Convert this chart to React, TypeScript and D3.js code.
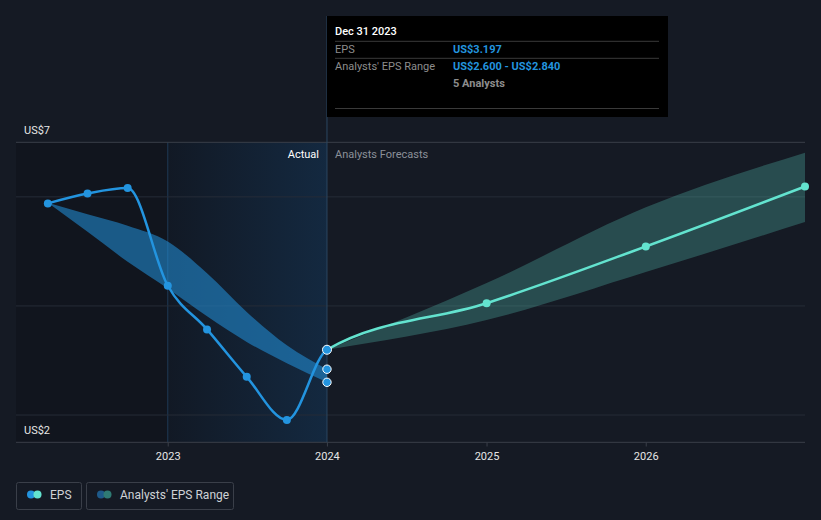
import React from "react";
import * as d3 from "d3";

const actualDates = ["2022-03-31", "2022-06-30", "2022-09-30", "2022-12-31", "2023-03-31", "2023-06-30", "2023-09-30", "2023-12-31"];
const actualEps = [5.88, 6.06, 6.16, 4.37, 3.57, 2.7, 1.91, 3.197];
const pastRangeHigh = [5.89, 5.68, 5.47, 5.18, 4.6, 3.89, 3.28, 2.84];
const pastRangeLow = [5.89, 5.36, 4.81, 4.32, 3.81, 3.34, 2.95, 2.6];

const forecastDates = ["2023-12-31", "2024-12-31", "2025-12-31", "2026-12-31"];
const forecastEps = [3.197, 4.05, 5.09, 6.19];
const forecastHigh = [3.197, 4.42, 5.81, 6.81];
const forecastLow = [3.197, 3.74, 4.62, 5.54];

const rangeMarkers = [2.84, 2.6];
const yTickValues = [2, 4, 6, 7];
const yLabelValues = [7, 2];
const xTickYears = [2023, 2024, 2025, 2026];

const W = 821;
const H = 520;
const BLUE = "#2394df";
const CYAN = "#63e3cf";

const parse = (s: string) => new Date(s + "T00:00:00");

export default function App() {
  const x = d3.scaleTime().domain([parse("2022-01-17"), parse("2026-12-31")]).range([16, 805]);
  const y = d3.scaleLinear().domain([1.5, 7]).range([442.3, 142.3]);

  const nowX = x(parse("2023-12-31"));
  const actStartX = x(parse("2022-12-31"));

  const actualPts = actualDates.map((d, i) => ({ d: parse(d), v: actualEps[i] }));
  const fcPts = forecastDates.map((d, i) => ({ d: parse(d), v: forecastEps[i] }));
  const allPts = [...actualPts, ...fcPts.slice(1)];

  const line = d3
    .line<{ d: Date; v: number }>()
    .x((p) => x(p.d))
    .y((p) => y(p.v))
    .curve(d3.curveMonotoneX);

  const pastBand = d3
    .area<number>()
    .x((_, i) => x(parse(actualDates[i])))
    .y0((_, i) => y(pastRangeLow[i]))
    .y1((_, i) => y(pastRangeHigh[i]))
    .curve(d3.curveMonotoneX);

  const fcBand = d3
    .area<number>()
    .x((_, i) => x(parse(forecastDates[i])))
    .y0((_, i) => y(forecastLow[i]))
    .y1((_, i) => y(forecastHigh[i]))
    .curve(d3.curveMonotoneX);

  const font = "Roboto, 'Noto Sans', sans-serif";

  return (
    <div style={{ position: "fixed", left: 0, top: 0 }}>
      <svg width={W} height={H} style={{ display: "block", fontFamily: font }}>
        <defs>
          <linearGradient id="actGrad" x1="0" x2="1" y1="0" y2="0">
            <stop offset="0" stopColor="#1e78c8" stopOpacity={0.04} />
            <stop offset="1" stopColor="#1e78c8" stopOpacity={0.2} />
          </linearGradient>
          <clipPath id="leftClip">
            <rect x={0} y={0} width={nowX} height={H} />
          </clipPath>
          <clipPath id="rightClip">
            <rect x={nowX} y={0} width={W - nowX} height={H} />
          </clipPath>
        </defs>
        <rect x={0} y={0} width={W} height={H} fill="#151a24" />
        {/* past shading */}
        <rect x={16} y={142.3} width={nowX - 16} height={300} fill="#000" opacity={0.16} />
        <rect x={actStartX} y={142.3} width={nowX - actStartX} height={300} fill="url(#actGrad)" />
        <line x1={actStartX} x2={actStartX} y1={142.3} y2={442.3} stroke="#1f3a55" strokeWidth={1} />

        {/* grid */}
        {yTickValues.map((v) => (
          <line key={v} x1={16} x2={805} y1={y(v)} y2={y(v)} stroke={v === 7 ? "#3a3f49" : "#262c37"} strokeWidth={1} />
        ))}
        <line x1={16} x2={805} y1={442.3} y2={442.3} stroke="#3a3f49" strokeWidth={1} />
        {xTickYears.map((yr) => {
          const px = x(parse(`${yr}-01-01`));
          return (
            <g key={yr}>
              <line x1={px} x2={px} y1={442.3} y2={446.5} stroke="#3a3f49" />
              <text x={px} y={460} textAnchor="middle" fontSize={11} fill="#e6e6e6">
                {yr}
              </text>
            </g>
          );
        })}
        {yLabelValues.map((v) => (
          <text key={v} x={24} y={v === 7 ? 134 : 434} fontSize={11} fill="#e6e6e6">
            {`US$${v}`}
          </text>
        ))}

        {/* now line */}
        <line x1={nowX} x2={nowX} y1={16} y2={442.3} stroke="#2b4660" strokeWidth={1} />

        <text x={nowX - 8} y={158} textAnchor="end" fontSize={11} fill="#ffffff">
          Actual
        </text>
        <text x={nowX + 8} y={158} fontSize={11} fill="#8b9099">
          Analysts Forecasts
        </text>

        {/* bands */}
        <path d={pastBand(actualDates.map((_, i) => i)) || ""} fill="#2394df" opacity={0.55} />
        <path d={fcBand(forecastDates.map((_, i) => i)) || ""} fill={CYAN} opacity={0.25} />

        {/* lines */}
        <path d={line(allPts) || ""} fill="none" stroke={BLUE} strokeWidth={2.5} clipPath="url(#leftClip)" />
        <path d={line(allPts) || ""} fill="none" stroke={CYAN} strokeWidth={2.5} clipPath="url(#rightClip)" />

        {actualPts.slice(0, -1).map((p, i) => (
          <circle key={i} cx={x(p.d)} cy={y(p.v)} r={4} fill={BLUE} />
        ))}
        {fcPts.slice(1).map((p, i) => (
          <circle key={i} cx={x(p.d)} cy={y(p.v)} r={4} fill={CYAN} />
        ))}
        {rangeMarkers.map((v, i) => (
          <circle key={i} cx={nowX} cy={y(v)} r={4.2} fill={BLUE} stroke="#ffffff" strokeWidth={1} />
        ))}
        <circle cx={nowX} cy={y(actualEps[actualEps.length - 1])} r={4.5} fill={BLUE} stroke="#ffffff" strokeWidth={1} />

        {/* tooltip */}
        <rect x={nowX} y={16} width={341} height={101} fill="#000000" />
        <text x={335} y={35} fontSize={11} fill="#ffffff" fontWeight={500}>
          Dec 31 2023
        </text>
        <line x1={335} x2={659} y1={41.3} y2={41.3} stroke="#3a3a3a" />
        <text x={335} y={53} fontSize={11} fill="#8d8d8d">
          EPS
        </text>
        <text x={453} y={53} fontSize={11} fill={BLUE} fontWeight={700}>
          US$3.197
        </text>
        <line x1={335} x2={659} y1={58.3} y2={58.3} stroke="#3a3a3a" />
        <text x={335} y={70} fontSize={11} fill="#8d8d8d">
          Analysts' EPS Range
        </text>
        <text x={453} y={70} fontSize={11} fill={BLUE} fontWeight={700}>
          US$2.600 - US$2.840
        </text>
        <text x={453} y={87} fontSize={11} fill="#8d8d8d" fontWeight={700}>
          5 Analysts
        </text>
        <line x1={335} x2={659} y1={108.5} y2={108.5} stroke="#3a3a3a" />

        {/* legend */}
        <rect x={16.5} y={482.5} width={65} height={27} rx={2} fill="none" stroke="#3a3f49" />
        <circle cx={31} cy={494.5} r={4} fill={BLUE} />
        <circle cx={37.5} cy={494.5} r={4} fill={CYAN} />
        <text x={50} y={499} fontSize={12} fill="#cfd2d6">
          EPS
        </text>
        <rect x={86.5} y={482.5} width={147} height={27} rx={2} fill="none" stroke="#3a3f49" />
        <circle cx={101} cy={494.5} r={4} fill="#1e5a8a" />
        <circle cx={107.5} cy={494.5} r={4} fill="#2f7b74" />
        <text x={120} y={499} fontSize={12} fill="#cfd2d6">
          Analysts' EPS Range
        </text>
      </svg>
    </div>
  );
}
